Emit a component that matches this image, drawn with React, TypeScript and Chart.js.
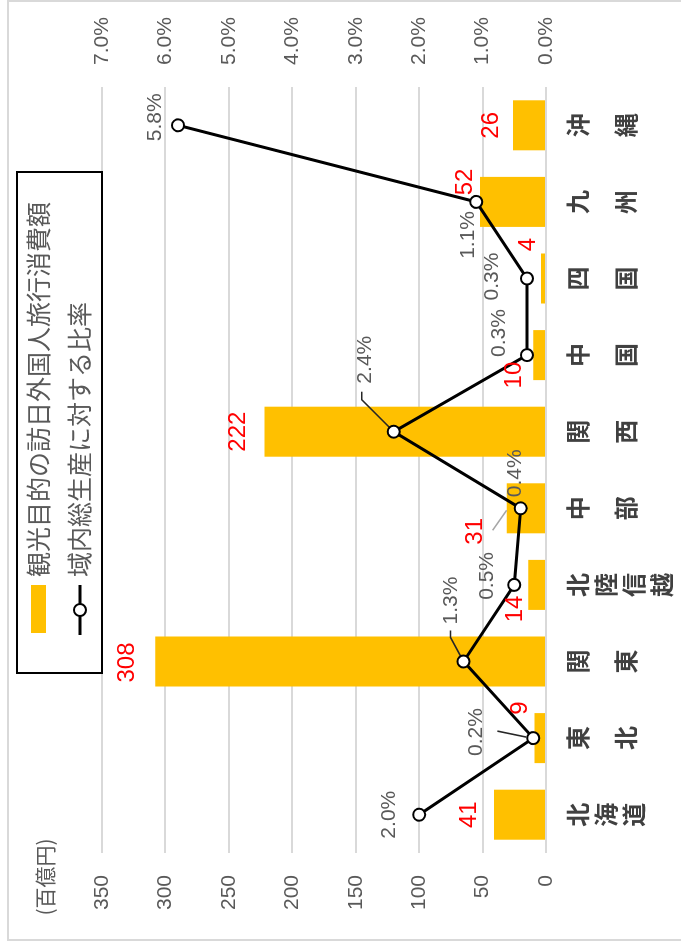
import React, { useEffect, useRef } from 'react';
import { Chart, registerables } from 'chart.js';

Chart.register(...registerables);

// ---- data ----
const categories = ['北海道', '東北', '関東', '北陸信越', '中部', '関西', '中国', '四国', '九州', '沖縄'];
const spending = [41, 9, 308, 14, 31, 222, 10, 4, 52, 26]; // 百億円
const gdpRatio = [2.0, 0.2, 1.3, 0.5, 0.4, 2.4, 0.3, 0.3, 1.1, 5.8]; // %
const leftTickStep = 50;
const leftMax = 350;
const rightTickStep = 1;
const rightMax = 7;
const unitLabel = '(百億円)';
const legendBar = '観光目的の訪日外国人旅行消費額';
const legendLine = '域内総生産に対する比率';

// ---- label placement (pixel offsets, layout only) ----
const barLabelShift = [[0, -25], [30, -14], [-1, -28], [-24, -13], [-23, -31], [0, -26], [-20, -19], [34, -13], [20, -15], [0, -22]];
const pctLabelShift = [[0, -30], [6, -57], [61, -12], [9, -27], [35, -5], [72, -29], [22, -28], [2, -35], [-33, -8], [8, -23]];
const leaders = [
  { i: 1, color: '#262626', pts: [[7, -36], [1, -7]] },
  { i: 2, color: '#262626', pts: [[31, -13], [24, -13], [0, 0]] },
  { i: 4, color: '#A6A6A6', pts: [[-22, -28], [-2, -14]] },
  { i: 5, color: '#262626', pts: [[40, -32], [32, -32], [0, 0]] },
];

const W = 944;
const H = 681;
const GOLD = '#FFC000';
const GRAY = '#595959';
const NUM_FONT = '"Liberation Sans", Arial, sans-serif';
const JP_FONT = '"Noto Sans CJK JP", "Noto Sans", sans-serif';

const overlay = {
  id: 'overlay',
  afterDatasetDraw(chart: any, args: any) {
    if (args.index !== 0) return;
    const ctx = chart.ctx;
    const meta = chart.getDatasetMeta(1);
    ctx.save();
    ctx.lineWidth = 1.6;
    leaders.forEach((l) => {
      const p = meta.data[l.i];
      ctx.strokeStyle = l.color;
      ctx.beginPath();
      l.pts.forEach(([dx, dy], k) => {
        if (k === 0) ctx.moveTo(p.x + dx, p.y + dy);
        else ctx.lineTo(p.x + dx, p.y + dy);
      });
      ctx.stroke();
    });
    ctx.restore();
  },
  afterDraw(chart: any) {
    const ctx = chart.ctx;
    const area = chart.chartArea;
    const xs = chart.scales.x;
    ctx.save();

    // outer frame
    ctx.strokeStyle = '#D9D9D9';
    ctx.lineWidth = 2;
    ctx.strokeRect(4, 8, 939, 720);

    // bar value labels
    const bm = chart.getDatasetMeta(0);
    ctx.font = `24px ${NUM_FONT}`;
    ctx.fillStyle = '#FF0000';
    ctx.textAlign = 'center';
    ctx.textBaseline = 'middle';
    spending.forEach((v, i) => {
      const b = bm.data[i];
      ctx.fillText(String(v), b.x + barLabelShift[i][0], b.y + barLabelShift[i][1]);
    });

    // percent labels
    const lm = chart.getDatasetMeta(1);
    ctx.font = `21px ${NUM_FONT}`;
    ctx.fillStyle = GRAY;
    gdpRatio.forEach((v, i) => {
      const p = lm.data[i];
      ctx.fillText(v.toFixed(1) + '%', p.x + pctLabelShift[i][0], p.y + pctLabelShift[i][1]);
    });

    // category labels (stacked characters)
    ctx.font = `bold 24px ${JP_FONT}`;
    ctx.fillStyle = '#404040';
    categories.forEach((c, i) => {
      const x = xs.getPixelForValue(i);
      const chars = Array.from(c);
      chars.forEach((ch, k) => {
        let y;
        if (chars.length === 2) y = area.bottom + (k === 0 ? 32 : 80);
        else y = area.bottom + 32 + 28 * k;
        ctx.fillText(ch, x, y);
      });
    });

    // unit label
    ctx.font = `21px ${JP_FONT}`;
    ctx.fillStyle = GRAY;
    ctx.fillText(unitLabel, 67, 45);

    // legend
    ctx.fillStyle = '#FFFFFF';
    ctx.fillRect(271, 17, 501, 85);
    ctx.strokeStyle = '#000000';
    ctx.lineWidth = 2;
    ctx.strokeRect(271, 17, 501, 85);
    ctx.fillStyle = GOLD;
    ctx.fillRect(311, 31, 48, 15);
    ctx.strokeStyle = '#000000';
    ctx.lineWidth = 3;
    ctx.beginPath();
    ctx.moveTo(309, 80);
    ctx.lineTo(359, 80);
    ctx.stroke();
    ctx.beginPath();
    ctx.arc(334, 80, 6, 0, Math.PI * 2);
    ctx.fillStyle = '#FFFFFF';
    ctx.fill();
    ctx.lineWidth = 2;
    ctx.stroke();
    ctx.font = `25px ${JP_FONT}`;
    ctx.fillStyle = GRAY;
    ctx.textAlign = 'left';
    ctx.fillText(legendBar, 367, 38);
    ctx.fillText(legendLine, 367, 79);

    ctx.restore();
  },
};

export default function App() {
  const ref = useRef<HTMLCanvasElement | null>(null);

  useEffect(() => {
    if (!ref.current) return;
    const chart = new Chart(ref.current, {
      type: 'bar',
      data: {
        labels: categories,
        datasets: [
          {
            type: 'bar',
            label: legendBar,
            data: spending,
            yAxisID: 'y',
            backgroundColor: GOLD,
            barPercentage: 0.653,
            categoryPercentage: 1,
            order: 1,
          },
          {
            type: 'line',
            label: legendLine,
            data: gdpRatio,
            yAxisID: 'y1',
            borderColor: '#000000',
            borderWidth: 3,
            pointRadius: 6,
            pointBorderWidth: 2,
            pointBackgroundColor: '#FFFFFF',
            pointBorderColor: '#000000',
            order: 0,
          } as any,
        ],
      },
      options: {
        responsive: false,
        animation: false,
        layout: { padding: { top: 102, left: 0, right: 0, bottom: 0 } },
        plugins: { legend: { display: false }, tooltip: { enabled: false } },
        scales: {
          x: {
            grid: { display: false },
            border: { display: false },
            ticks: { display: false },
            afterFit: (s: any) => { s.height = 135; },
          },
          y: {
            position: 'left',
            min: 0,
            max: leftMax,
            ticks: { stepSize: leftTickStep, color: GRAY, font: { family: NUM_FONT, size: 21 }, padding: 22 },
            grid: { color: '#D9D9D9', lineWidth: 2, drawTicks: false },
            border: { display: false },
            afterFit: (s: any) => { s.width = 91; },
          },
          y1: {
            position: 'right',
            min: 0,
            max: rightMax,
            ticks: {
              stepSize: rightTickStep,
              color: GRAY,
              font: { family: NUM_FONT, size: 21 },
              padding: 22,
              callback: (v: any) => Number(v).toFixed(1) + '%',
            },
            grid: { display: false, drawTicks: false },
            border: { display: false },
            afterFit: (s: any) => { s.width = 87; },
          },
        } as any,
      },
      plugins: [overlay],
    });
    return () => chart.destroy();
  }, []);

  return (
    <div style={{ position: 'fixed', left: 0, top: 0, width: 681, height: 944, overflow: 'hidden', background: '#FFFFFF' }}>
      <canvas
        ref={ref}
        width={W}
        height={H}
        style={{
          position: 'absolute',
          left: 0,
          top: 0,
          width: W,
          height: H,
          transformOrigin: '0 0',
          transform: `translateY(${W}px) rotate(-90deg)`,
        }}
      />
    </div>
  );
}
